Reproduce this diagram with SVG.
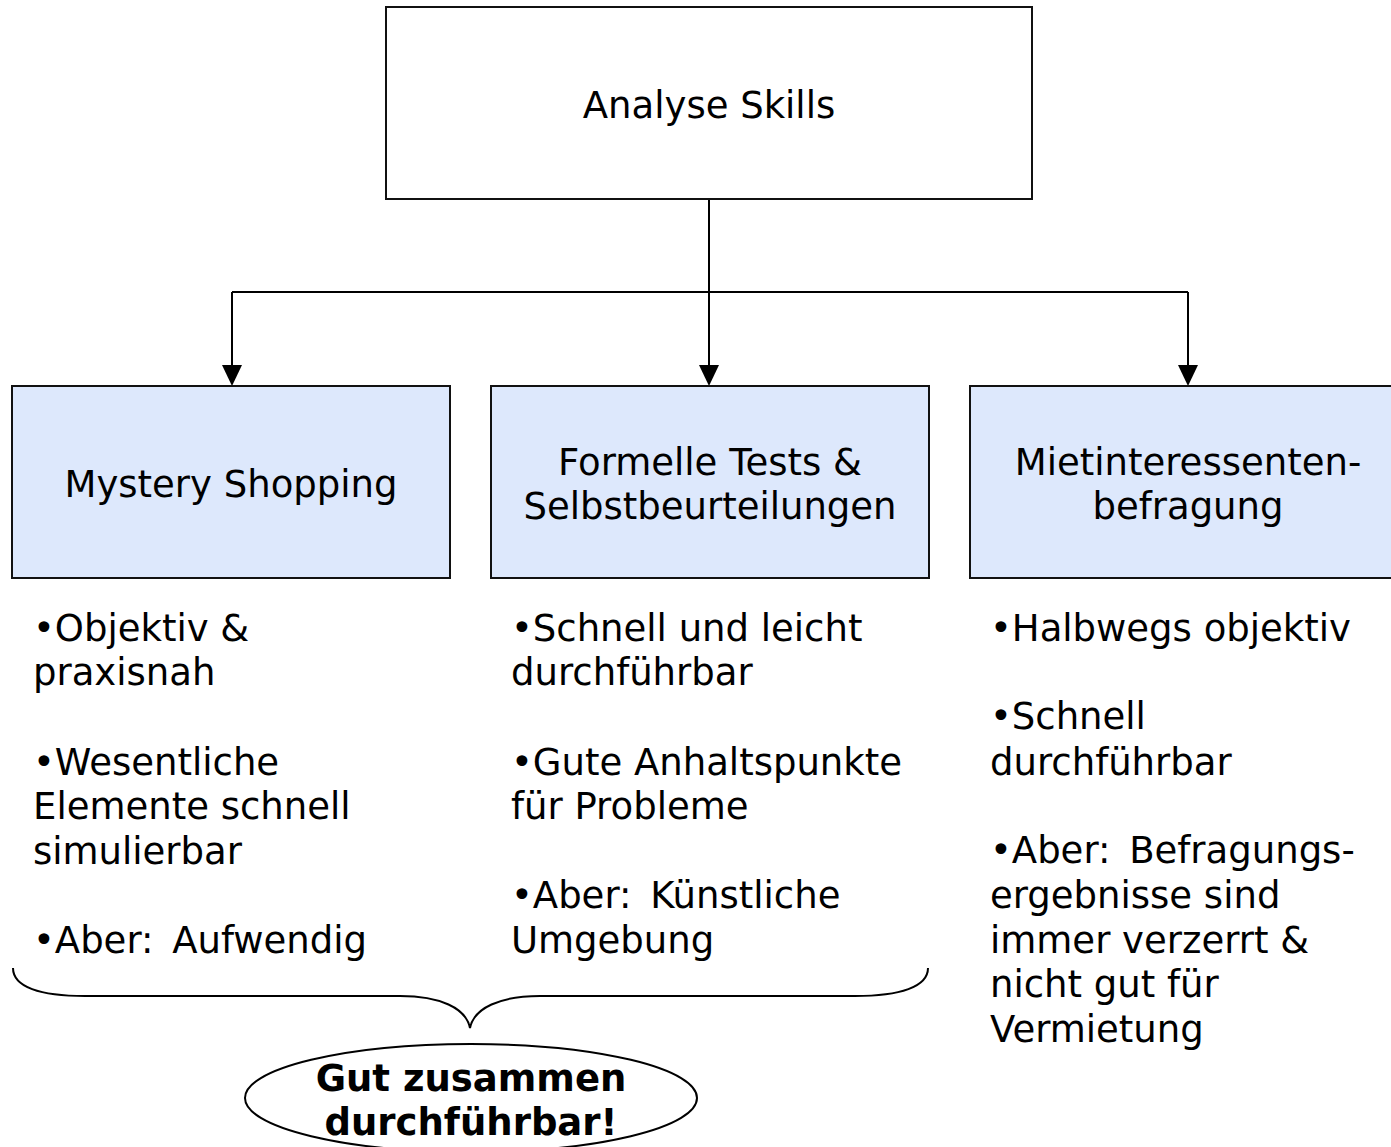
<svg xmlns="http://www.w3.org/2000/svg" width="1391" height="1147" viewBox="0 0 1391 1147">
  <style>
    text { font-family: "DejaVu Sans", Verdana, sans-serif; font-size: 37px; fill: #000; }
    .c { text-anchor: middle; }
    .b { font-weight: bold; }
    .box { fill: #DDE8FC; stroke: #111; stroke-width: 2; }
    .top { fill: #fff; stroke: #111; stroke-width: 2; }
    .ln { fill: none; stroke: #000; stroke-width: 2; }
  </style>
  <rect width="1391" height="1147" fill="#fff"/>

  <g id="connectors">
    <path class="ln" d="M709,199 L709,292"/>
    <path class="ln" d="M232,292 L1188,292"/>
    <path class="ln" d="M232,292 L232,365"/>
    <path class="ln" d="M709,292 L709,365"/>
    <path class="ln" d="M1188,292 L1188,365"/>
    <path d="M222,365 L242,365 L232,386 Z" fill="#000"/>
    <path d="M699,365 L719,365 L709,386 Z" fill="#000"/>
    <path d="M1178,365 L1198,365 L1188,386 Z" fill="#000"/>
  </g>

  <g id="node-analyse">
    <rect class="top" x="386" y="7" width="646" height="192"/>
    <text class="c" x="709" y="118">Analyse Skills</text>
  </g>

  <g id="node-mystery">
    <rect class="box" x="12" y="386" width="438" height="192"/>
    <text class="c" x="231" y="497">Mystery Shopping</text>
  </g>

  <g id="node-tests">
    <rect class="box" x="491" y="386" width="438" height="192"/>
    <text class="c" x="710" y="475">Formelle Tests &amp;</text>
    <text class="c" x="710" y="519">Selbstbeurteilungen</text>
  </g>

  <g id="node-befragung">
    <rect class="box" x="970" y="386" width="430" height="192"/>
    <text class="c" x="1188" y="475">Mietinteressenten-</text>
    <text class="c" x="1188" y="519">befragung</text>
  </g>

  <g id="text-col1">
    <text x="33" y="641">•Objektiv &amp;</text>
    <text x="33" y="685">praxisnah</text>
    <text x="33" y="775">•Wesentliche</text>
    <text x="33" y="819">Elemente schnell</text>
    <text x="33" y="864">simulierbar</text>
    <text x="33" y="953">•Aber: <tspan dx="7">Aufwendig</tspan></text>
  </g>

  <g id="text-col2">
    <text x="511" y="641">•Schnell und leicht</text>
    <text x="511" y="685">durchführbar</text>
    <text x="511" y="775">•Gute Anhaltspunkte</text>
    <text x="511" y="819">für Probleme</text>
    <text x="511" y="908">•Aber: <tspan dx="7">Künstliche</tspan></text>
    <text x="511" y="953">Umgebung</text>
  </g>

  <g id="text-col3">
    <text x="990" y="641">•Halbwegs objektiv</text>
    <text x="990" y="729">•Schnell</text>
    <text x="990" y="775">durchführbar</text>
    <text x="990" y="863">•Aber: <tspan dx="7">Befragungs-</tspan></text>
    <text x="990" y="908">ergebnisse sind</text>
    <text x="990" y="953">immer verzerrt &amp;</text>
    <text x="990" y="997">nicht gut für</text>
    <text x="990" y="1042">Vermietung</text>
  </g>

  <g id="brace">
    <path class="ln" d="M13,968 C13,987 40,996 85,996 L400,996 C440,996 466,1008 470,1028 C474,1008 500,996 540,996 L855,996 C900,996 928,987 928,968"/>
  </g>

  <g id="node-summary">
    <ellipse cx="471" cy="1098" rx="226" ry="54" fill="#fff" stroke="#000" stroke-width="2"/>
    <text class="c b" x="471" y="1091">Gut zusammen</text>
    <text class="c b" x="471" y="1135">durchführbar!</text>
  </g>
</svg>
